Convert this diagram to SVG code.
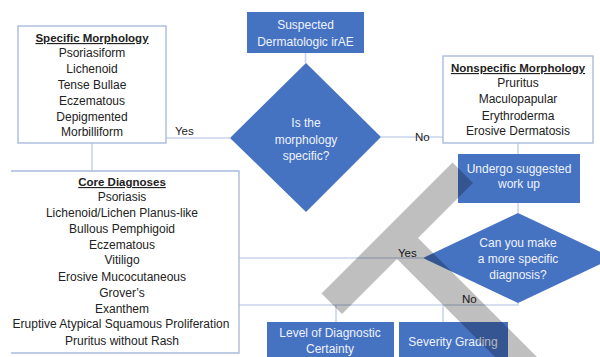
<svg xmlns="http://www.w3.org/2000/svg" width="600" height="357" viewBox="0 0 600 357">
  <style>
    .box { fill: #ffffff; stroke: #a9bbdd; stroke-width: 1.4; }
    .blue { fill: #4672c2; stroke: none; }
    .conn { fill: none; stroke: #c9d5ea; stroke-width: 1.6; }
    .t { font-family: "Liberation Sans", Arial, sans-serif; font-size: 12px; fill: #222222; text-anchor: middle; }
    .h { font-weight: bold; font-size: 11.5px; text-decoration: underline; }
    .w { font-family: "Liberation Sans", Arial, sans-serif; font-size: 12px; fill: #eef2fb; text-anchor: middle; }
    .lbl { font-family: "Liberation Sans", Arial, sans-serif; font-size: 11.5px; fill: #222222; }
  </style>
  <rect width="600" height="357" fill="#ffffff"/>

  <!-- connectors -->
  <g id="connectors">
    <path class="conn" d="M305.5,53 V63"/>
    <path class="conn" d="M166,138 H230"/>
    <path class="conn" d="M381,137 H443"/>
    <path class="conn" d="M92,143 V171"/>
    <path class="conn" d="M518,143 V154"/>
    <path class="conn" d="M518,203 V213"/>
    <path class="conn" d="M423,258 H239"/>
    <path class="conn" d="M518,303 V305 H239"/>
    <path class="conn" d="M336,305 V322"/>
    <path class="conn" d="M443,305 V322"/>
    <text class="lbl" x="175" y="135">Yes</text>
    <text class="lbl" x="415" y="141">No</text>
    <text class="lbl" x="398" y="257">Yes</text>
    <text class="lbl" x="462" y="303">No</text>
  </g>

  <g id="suspected">
    <rect class="blue" x="247" y="12" width="117" height="41"/>
    <text class="w" x="305.5" y="29">Suspected</text>
    <text class="w" x="305.5" y="46">Dermatologic irAE</text>
  </g>

  <g id="morphology-question">
    <polygon class="blue" points="306,63 381,137 306,212 230,138"/>
    <text class="w" x="306" y="127">Is the</text>
    <text class="w" x="306" y="144">morphology</text>
    <text class="w" x="306" y="160">specific?</text>
  </g>

  <g id="specific-morphology">
    <rect class="box" x="18" y="26" width="148" height="117"/>
    <text class="t h" x="92" y="42">Specific Morphology</text>
    <text class="t" x="92" y="57">Psoriasiform</text>
    <text class="t" x="92" y="73">Lichenoid</text>
    <text class="t" x="92" y="89">Tense Bullae</text>
    <text class="t" x="92" y="105">Eczematous</text>
    <text class="t" x="92" y="121">Depigmented</text>
    <text class="t" x="92" y="136">Morbilliform</text>
  </g>

  <g id="nonspecific-morphology">
    <rect class="box" x="443" y="56" width="150" height="87"/>
    <text class="t h" x="518" y="72">Nonspecific Morphology</text>
    <text class="t" x="518" y="87">Pruritus</text>
    <text class="t" x="518" y="103">Maculopapular</text>
    <text class="t" x="518" y="120">Erythroderma</text>
    <text class="t" x="518" y="135">Erosive Dermatosis</text>
  </g>

  <g id="core-diagnoses">
    <path class="box" d="M11,171 H239 V353 H11"/>
    <text class="t h" x="122" y="186">Core Diagnoses</text>
    <text class="t" x="122" y="201">Psoriasis</text>
    <text class="t" x="122" y="217">Lichenoid/Lichen Planus-like</text>
    <text class="t" x="122" y="233">Bullous Pemphigoid</text>
    <text class="t" x="122" y="249">Eczematous</text>
    <text class="t" x="122" y="264">Vitiligo</text>
    <text class="t" x="122" y="281">Erosive Mucocutaneous</text>
    <text class="t" x="122" y="297">Grover’s</text>
    <text class="t" x="122" y="313">Exanthem</text>
    <text class="t" x="121" y="328">Eruptive Atypical Squamous Proliferation</text>
    <text class="t" x="122" y="345">Pruritus without Rash</text>
  </g>

  <g id="workup">
    <rect class="blue" x="458" y="154" width="122" height="49"/>
    <text class="w" x="519" y="173">Undergo suggested</text>
    <text class="w" x="519" y="188">work up</text>
  </g>

  <g id="specific-diagnosis-question">
    <polygon class="blue" points="518,213 613,258 518,303 423,258"/>
    <text class="w" x="518" y="247">Can you make</text>
    <text class="w" x="518" y="263">a more specific</text>
    <text class="w" x="518" y="279">diagnosis?</text>
  </g>

  <g id="certainty">
    <rect class="blue" x="267" y="322" width="127" height="40"/>
    <text class="w" x="330" y="337">Level of Diagnostic</text>
    <text class="w" x="330" y="353">Certainty</text>
  </g>

  <g id="severity">
    <rect class="blue" x="399" y="322" width="109" height="40"/>
    <text class="w" x="453" y="346">Severity  Grading</text>
  </g>

  <!-- translucent overlay mark -->
  <polygon points="321.5,293.5 452.5,162.5 473,183 418,238 550,370 508,370 397,259 342,314" fill="#000000" fill-opacity="0.25"/>
</svg>
